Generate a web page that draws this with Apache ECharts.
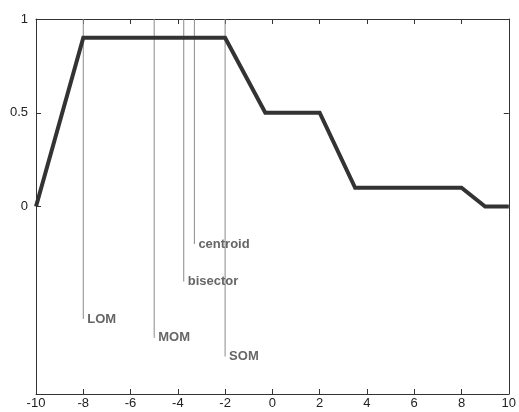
<!DOCTYPE html>
<html>
<head>
<meta charset="utf-8">
<script src="https://cdn.jsdelivr.net/npm/echarts@6/dist/echarts.min.js"></script>
<style>
html,body{margin:0;padding:0;background:#fff;}
#chart{width:519px;height:412px;}
</style>
</head>
<body>
<div id="chart"></div>
<script>
// Aggregated membership function
const xs = [-10, -8, -2, -0.3, 2, 3.5, 8, 9, 10];
const ys = [0, 0.9, 0.9, 0.5, 0.5, 0.1, 0.1, 0, 0];
// Defuzzification markers
const markerNames = ['LOM', 'MOM', 'bisector', 'centroid', 'SOM'];
const markerX = [-8, -5, -3.75, -3.3, -2];
const markerTopY = [1, 1, 1, 1, 1];
const markerEndY = [-0.6, -0.7, -0.4, -0.2, -0.8];
// Tick labels
const xTickValues = [-10, -8, -6, -4, -2, 0, 2, 4, 6, 8, 10];
const yTickValues = [0, 0.5, 1];

const chart = echarts.init(document.getElementById('chart'), null, {renderer: 'canvas'});

const markerSeries = markerNames.map((name, i) => ({
  type: 'line',
  name: name,
  xAxisIndex: 0, yAxisIndex: 0,
  symbol: 'none',
  silent: true,
  animation: false,
  lineStyle: {color: '#8a8a8a', width: 1},
  endLabel: {
    show: true,
    formatter: name,
    distance: 4,
    color: '#666',
    fontWeight: 'bold',
    fontSize: 13,
    fontFamily: 'Liberation Sans, Arial, sans-serif'
  },
  data: [
    [markerX[i], markerTopY[i]],
    [markerX[i], markerEndY[i]]
  ]
}));

const axisFont = {color: '#222', fontSize: 13, fontFamily: 'Liberation Sans, Arial, sans-serif'};

chart.setOption({
  animation: false,
  backgroundColor: '#fff',
  grid: {left: 36, right: 7, top: 19, bottom: 18, containLabel: false},
  xAxis: [
    {
      type: 'value', min: -10, max: 10, interval: 2, position: 'bottom',
      axisLine: {show: true, onZero: false, lineStyle: {color: '#333', width: 1}},
      axisTick: {show: true, inside: true, length: 5, lineStyle: {color: '#333'}},
      axisLabel: Object.assign({margin: 3, customValues: xTickValues}, axisFont),
      splitLine: {show: false}
    },
    {
      type: 'value', min: -10, max: 10, interval: 2, position: 'top',
      axisLine: {show: true, onZero: false, lineStyle: {color: '#333', width: 1}},
      axisTick: {show: true, inside: true, length: 5, lineStyle: {color: '#333'}},
      axisLabel: {show: false},
      splitLine: {show: false}
    }
  ],
  yAxis: [
    {
      type: 'value', min: -1, max: 1, interval: 0.5, position: 'left',
      axisLine: {show: true, onZero: false, lineStyle: {color: '#333', width: 1}},
      axisTick: {show: true, inside: true, length: 5, customValues: yTickValues, lineStyle: {color: '#333'}},
      axisLabel: Object.assign({margin: 8, customValues: yTickValues}, axisFont),
      splitLine: {show: false}
    },
    {
      type: 'value', min: -1, max: 1, interval: 0.5, position: 'right',
      axisLine: {show: true, onZero: false, lineStyle: {color: '#333', width: 1}},
      axisTick: {show: true, inside: true, length: 5, customValues: yTickValues, lineStyle: {color: '#333'}},
      axisLabel: {show: false},
      splitLine: {show: false}
    }
  ],
  series: markerSeries.concat([
    {
      type: 'line',
      name: 'aggregate',
      xAxisIndex: 0, yAxisIndex: 0,
      symbol: 'none',
      silent: true,
      lineStyle: {color: '#333', width: 4, join: 'miter'},
      data: xs.map((x, i) => [x, ys[i]]),
      z: 5
    }
  ])
});
</script>
</body>
</html>
